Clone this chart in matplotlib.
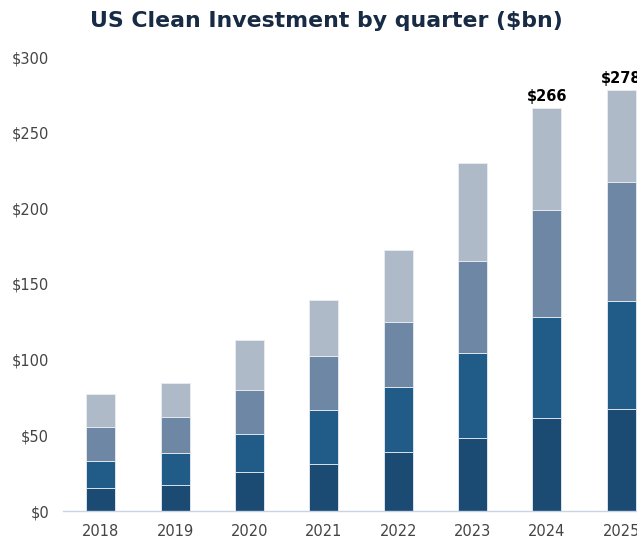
import matplotlib.pyplot as plt
import numpy as np

years = ["2018", "2019", "2020", "2021", "2022", "2023", "2024", "2025"]
q1 = [15.4, 17.0, 25.6, 31.1, 39.0, 48.1, 61.7, 67.5]
q2 = [17.7, 21.2, 25.1, 35.5, 42.8, 56.2, 66.8, 71.4]
q3 = [22.5, 24.2, 29.3, 35.9, 43.4, 61.0, 70.6, 78.5]
q4 = [21.8, 22.5, 33.0, 37.0, 47.0, 64.6, 66.9, 60.6]
labelled = {"2024": "$266", "2025": "$278"}

colors = ["#1b4a72", "#215b88", "#6e87a5", "#afbac9"]

fig = plt.figure(figsize=(6.37, 5.40), dpi=100)
ax = fig.add_axes([63 / 637, 29 / 540, 1 - 63 / 637, 454 / 540])

x = np.arange(len(years))
bottom = np.zeros(len(years))
for vals, c in zip([q1, q2, q3, q4], colors):
    ax.bar(x, vals, width=0.39, bottom=bottom, color=c, edgecolor="#e8edf3", linewidth=0.6)
    bottom += np.array(vals)

for i, y in enumerate(years):
    if y in labelled:
        ax.text(x[i], bottom[i] + 3, labelled[y], ha="center", va="bottom",
                fontsize=10.5, fontweight="bold", color="black", clip_on=False)

ax.set_xlim(-0.511, 7.214)
ax.set_ylim(0, 300)
ax.set_xticks(x)
ax.set_xticklabels(years)
ax.set_yticks(range(0, 301, 50))
ax.set_yticklabels([f"${v}" for v in range(0, 301, 50)])
ax.tick_params(axis="both", length=0, labelsize=10.5, colors="#444444")
ax.tick_params(axis="y", pad=10)
ax.tick_params(axis="x", pad=9)
for s in ["top", "right", "left"]:
    ax.spines[s].set_visible(False)
ax.spines["bottom"].set_color("#c9d3e6")
ax.spines["bottom"].set_linewidth(1)

fig.text(0.512, 0.962, "US Clean Investment by quarter ($bn)", ha="center", va="center",
         fontsize=15.8, fontweight="bold", color="#172b45")

fig.savefig("out.png", dpi=100)
